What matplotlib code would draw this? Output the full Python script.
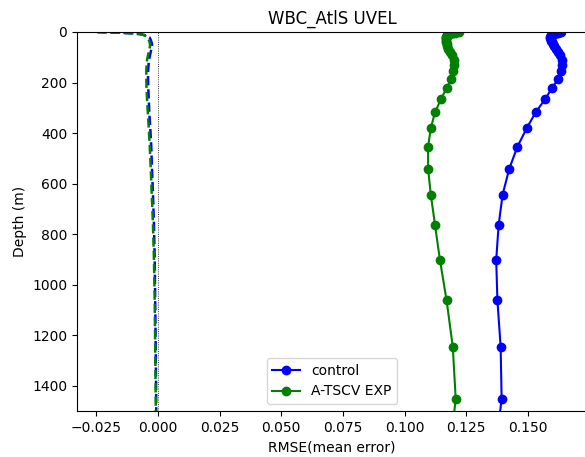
import numpy as np
import matplotlib
matplotlib.use('Agg')
import matplotlib.pyplot as plt

# model depth levels (m)
depth = [0.494, 1.54, 2.65, 3.82, 5.08, 6.44, 7.93, 9.57, 11.41, 13.47,
         15.81, 18.50, 21.60, 25.21, 29.44, 34.43, 40.34, 47.37, 55.76, 65.81,
         77.85, 92.33, 109.73, 130.67, 155.85, 186.13, 222.48, 266.04, 318.13, 380.21,
         453.94, 541.09, 643.57, 763.33, 902.34, 1062.44, 1245.29, 1452.25, 1684.28]

# RMSE profiles
rmse_control = [0.1634, 0.1630, 0.1622, 0.1618, 0.1609, 0.1605, 0.1601, 0.1599, 0.1597, 0.1595,
                0.1593, 0.1593, 0.1591, 0.1591, 0.1593, 0.1595, 0.1597, 0.1601, 0.1605, 0.1613,
                0.1622, 0.1630, 0.1636, 0.1638, 0.1634, 0.1622, 0.1597, 0.1569, 0.1531, 0.1495,
                0.1457, 0.1424, 0.1397, 0.1381, 0.1371, 0.1376, 0.1389, 0.1393, 0.1365]
rmse_exp = [0.1220, 0.1212, 0.1204, 0.1196, 0.1188, 0.1184, 0.1180, 0.1176, 0.1174, 0.1172,
            0.1170, 0.1168, 0.1168, 0.1166, 0.1166, 0.1166, 0.1168, 0.1170, 0.1172, 0.1176,
            0.1182, 0.1190, 0.1198, 0.1200, 0.1196, 0.1188, 0.1170, 0.1147, 0.1123, 0.1106,
            0.1095, 0.1095, 0.1106, 0.1123, 0.1143, 0.1170, 0.1195, 0.1207, 0.1180]

# mean error profiles
me_control = [-0.0247, -0.0203, -0.0166, -0.0138, -0.0114, -0.0093, -0.0077, -0.0065, -0.0057, -0.0049,
              -0.0043, -0.0039, -0.0034, -0.0032, -0.0030, -0.0028, -0.0026, -0.0024, -0.0024, -0.0026,
              -0.0029, -0.0032, -0.0036, -0.0038, -0.0040, -0.0040, -0.0039, -0.0037, -0.0035, -0.0031,
              -0.0027, -0.0024, -0.0020, -0.0016, -0.0013, -0.0011, -0.0009, -0.0007, -0.0006]
me_exp = [-0.0244, -0.0199, -0.0162, -0.0134, -0.0111, -0.0092, -0.0078, -0.0068, -0.0061, -0.0055,
          -0.0050, -0.0046, -0.0042, -0.0040, -0.0038, -0.0036, -0.0034, -0.0032, -0.0032, -0.0034,
          -0.0037, -0.0040, -0.0044, -0.0046, -0.0047, -0.0047, -0.0046, -0.0044, -0.0041, -0.0037,
          -0.0033, -0.0029, -0.0025, -0.0020, -0.0016, -0.0013, -0.0011, -0.0009, -0.0007]

fig = plt.figure(figsize=(5.85, 4.57), dpi=100)
ax = fig.add_axes([0.1316, 0.1007, 0.8718, 0.8293])

ax.plot(rmse_control, depth, 'o-', color='blue', markersize=6, label='control')
ax.plot(rmse_exp, depth, 'o-', color='green', markersize=6, label='A-TSCV EXP')
ax.plot(me_control, depth, '--', color='blue', lw=1.8)
ax.plot(me_exp, depth, '--', color='green', lw=1.8)
ax.axvline(0, color='black', ls=':', lw=0.6)

ax.set_xlim(-0.0328, 0.1739)
ax.set_ylim(1500, 0)
ax.set_xticks(np.arange(-0.025, 0.151, 0.025))
ax.set_yticks(np.arange(0, 1401, 200))
ax.set_title('WBC_AtlS UVEL')
ax.set_xlabel('RMSE(mean error)')
ax.set_ylabel('Depth (m)')
ax.legend(loc='lower center')

fig.savefig('out.png', dpi=100)
